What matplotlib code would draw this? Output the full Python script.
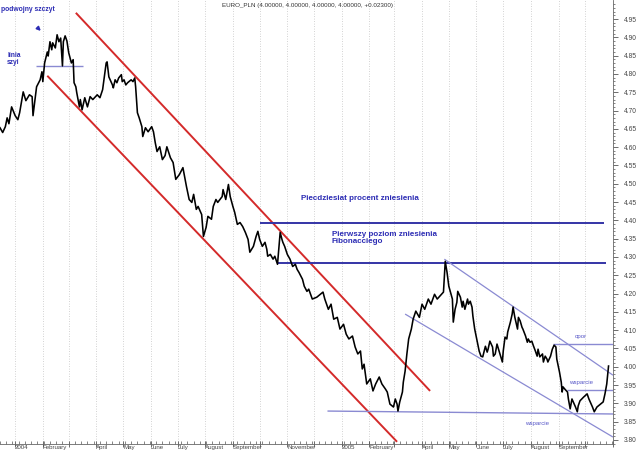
import matplotlib
matplotlib.use('Agg')
import matplotlib.pyplot as plt
import matplotlib.dates as mdates
import matplotlib.ticker as mticker
import matplotlib.transforms as mtransforms
import numpy as np
import pandas as pd

plt.rcParams['font.family'] = ['Liberation Sans', 'DejaVu Sans']

# ---------------- data ----------------
start_date = pd.Timestamp('2003-12-15')
day_offset = [
    0, 3, 6, 8, 10, 13, 17, 20, 22, 26,
    29, 33, 36, 37, 41, 45, 47, 48, 50, 53,
    54, 56, 58, 59, 62, 64, 66, 68, 70, 71,
    73, 75, 77, 80, 82, 83, 85, 86, 89, 90,
    92, 95, 98, 101, 104, 109, 112, 115, 119, 120,
    122, 126, 127, 129, 131, 133, 136, 137, 139, 141,
    143, 147, 149, 151, 152, 154, 156, 159, 160, 163,
    166, 170, 172, 174, 176, 179, 182, 185, 187, 191,
    194, 197, 201, 205, 209, 212, 215, 217, 220, 222,
    226, 228, 231, 233, 237, 239, 242, 244, 249, 250,
    253, 256, 258, 261, 263, 266, 269, 272, 275, 278,
    280, 284, 287, 289, 291, 294, 297, 299, 300, 303,
    306, 308, 311, 314, 316, 317, 319, 322, 325, 328,
    331, 333, 335, 339, 341, 344, 346, 350, 355, 359,
    362, 364, 368, 371, 374, 378, 381, 385, 388, 391,
    395, 398, 401, 404, 406, 408, 411, 415, 418, 421,
    425, 428, 432, 434, 437, 441, 443, 445, 446, 448,
    451, 452, 454, 456, 458, 461, 463, 466, 470, 473,
    476, 480, 483, 487, 490, 493, 497, 499, 501, 503,
    507, 508, 510, 512, 513, 516, 518, 519, 521, 524,
    525, 527, 529, 530, 532, 535, 537, 539, 541, 544,
    546, 547, 549, 552, 553, 555, 557, 558, 561, 563,
    564, 566, 568, 569, 572, 574, 575, 577, 580, 581,
    583, 585, 586, 589, 591, 592, 594, 596, 598, 600,
    602, 603, 605, 608, 609, 611, 613, 614, 617, 619,
    621, 623, 624, 627, 629, 630, 631, 633, 636, 637,
    639, 641, 645, 647, 648, 650, 654, 658, 660, 664,
    666, 669, 673, 676, 678, 680, 682,
]
close = [
    4.653, 4.640, 4.656, 4.680, 4.664, 4.710, 4.686, 4.675, 4.694, 4.751,
    4.727, 4.743, 4.738, 4.686, 4.765, 4.784, 4.806, 4.779, 4.830, 4.860,
    4.849, 4.888, 4.866, 4.885, 4.871, 4.907, 4.888, 4.898, 4.822, 4.888,
    4.904, 4.890, 4.858, 4.830, 4.839, 4.776, 4.765, 4.749, 4.710, 4.730,
    4.702, 4.735, 4.710, 4.738, 4.730, 4.743, 4.735, 4.757, 4.830, 4.833,
    4.792, 4.770, 4.762, 4.784, 4.776, 4.789, 4.798, 4.779, 4.784, 4.770,
    4.776, 4.784, 4.779, 4.789, 4.765, 4.694, 4.680, 4.656, 4.629, 4.653,
    4.642, 4.656, 4.642, 4.612, 4.588, 4.601, 4.566, 4.577, 4.601, 4.571,
    4.558, 4.512, 4.525, 4.544, 4.492, 4.457, 4.449, 4.471, 4.430, 4.438,
    4.416, 4.356, 4.381, 4.411, 4.403, 4.438, 4.457, 4.449, 4.465, 4.484,
    4.457, 4.498, 4.465, 4.438, 4.422, 4.389, 4.394, 4.383, 4.367, 4.348,
    4.313, 4.329, 4.356, 4.370, 4.348, 4.329, 4.340, 4.321, 4.302, 4.307,
    4.294, 4.302, 4.280, 4.367, 4.348, 4.340, 4.329, 4.307, 4.294, 4.274,
    4.280, 4.266, 4.258, 4.239, 4.220, 4.206, 4.212, 4.185, 4.190, 4.198,
    4.204, 4.185, 4.157, 4.171, 4.130, 4.135, 4.103, 4.116, 4.089, 4.076,
    4.084, 4.054, 4.035, 4.043, 3.994, 4.007, 3.953, 3.967, 3.934, 3.953,
    3.972, 3.953, 3.939, 3.931, 3.898, 3.890, 3.912, 3.898, 3.879, 3.904,
    3.931, 3.958, 3.988, 4.035, 4.076, 4.103, 4.130, 4.152, 4.135, 4.171,
    4.157, 4.185, 4.171, 4.198, 4.185, 4.193, 4.204, 4.288, 4.258, 4.220,
    4.185, 4.122, 4.157, 4.176, 4.206, 4.190, 4.163, 4.179, 4.157, 4.185,
    4.171, 4.179, 4.163, 4.138, 4.103, 4.067, 4.043, 4.029, 4.027, 4.056,
    4.040, 4.048, 4.070, 4.054, 4.029, 4.035, 4.062, 4.054, 4.029, 4.013,
    4.043, 4.081, 4.076, 4.095, 4.122, 4.144, 4.163, 4.135, 4.103, 4.135,
    4.125, 4.108, 4.103, 4.084, 4.067, 4.076, 4.067, 4.070, 4.056, 4.043,
    4.029, 4.048, 4.027, 4.035, 4.013, 4.029, 4.021, 4.013, 4.029, 4.048,
    4.059, 4.054, 4.021, 3.986, 3.958, 3.931, 3.945, 3.939, 3.931, 3.912,
    3.885, 3.912, 3.890, 3.877, 3.893, 3.907, 3.917, 3.926, 3.912, 3.890,
    3.877, 3.890, 3.898, 3.904, 3.926, 3.953, 4.002,
]
assert len(day_offset) == len(close)

month_ticks = pd.date_range('2004-01-01', '2005-11-01', freq='MS')
month_labels = ['2004', 'February', '', 'April', 'May', 'June', 'July', 'August',
                'September', '', 'November', '', '2005', 'February', '', 'April',
                'May', 'June', 'July', 'August', 'September', '', '']
price_ticks = [3.80, 3.85, 3.90, 3.95, 4.00, 4.05, 4.10, 4.15, 4.20, 4.25, 4.30, 4.35,
               4.40, 4.45, 4.50, 4.55, 4.60, 4.65, 4.70, 4.75, 4.80, 4.85, 4.90, 4.95]

title_text = 'EURO_PLN (4.00000, 4.00000, 4.00000, 4.00000, +0.02300)'

# trend lines: (day_offset, value) endpoints
red_upper = [(85, 4.967), (482, 3.934)]
red_lower = [(53, 4.795), (445, 3.795)]
neckline = [(40, 4.822), (93, 4.822)]
fib_50 = [(291, 4.393), (677, 4.393)]
fib_first = [(312, 4.283), (679, 4.283)]
support_low = [(367, 3.879), (687, 3.871)]
chan_upper = [(498, 4.294), (687, 3.977)]
chan_lower = [(454, 4.144), (687, 3.808)]
resistance = [(620, 4.062), (687, 4.062)]
support_high = [(636, 3.937), (687, 3.937)]


def d(day):
    return start_date + pd.Timedelta(days=day)


dates = start_date + pd.to_timedelta(day_offset, unit='D')

# ---------------- figure ----------------
fig = plt.figure(figsize=(6.4, 4.54), dpi=100)
ax = fig.add_axes([0.0, 10 / 454, 613 / 640, 444 / 454])

RED = '#d42a2a'
NAVY = '#3434a6'
THIN = '#8a8ad2'
TXT = '#2c2cb4'
SMALLTXT = '#5858c8'


def seg(pts, **kw):
    ax.plot([d(p[0]) for p in pts], [p[1] for p in pts], solid_capstyle='butt', **kw)


seg(red_upper, color=RED, lw=1.4)
seg(red_lower, color=RED, lw=1.4)
seg(fib_50, color=NAVY, lw=1.4)
seg(fib_first, color=NAVY, lw=1.4)
seg(neckline, color=THIN, lw=1.0)
seg(support_low, color=THIN, lw=1.0)
seg(chan_upper, color=THIN, lw=0.9)
seg(chan_lower, color=THIN, lw=0.9)
seg(resistance, color=THIN, lw=1.0)
seg(support_high, color=THIN, lw=1.0)

ax.plot(dates, close, color='black', lw=1.15, zorder=5)

# texts
ax.text(d(1), 4.975, 'podwojny szczyt', color=TXT, fontsize=4.9, fontweight='bold',
        ha='left', va='center')
ax.annotate('', xy=(d(48), 4.912), xytext=(d(41), 4.929),
            arrowprops=dict(arrowstyle='-|>', color=TXT, lw=1.3, mutation_scale=5))
ax.text(d(8), 4.841, 'linia\nszyi', color=TXT, fontsize=4.8, fontweight='bold',
        ha='left', va='center', linespacing=1.0)
ax.text(d(337), 4.460, 'Piecdziesiat procent zniesienia', color=TXT, fontsize=5.8,
        fontweight='bold', ha='left', va='center')
ax.text(d(372), 4.352, 'Pierwszy poziom zniesienia\nFibonacciego', color=TXT, fontsize=5.8,
        fontweight='bold', ha='left', va='center', linespacing=1.05)
ax.text(d(651), 4.084, 'opor', color=SMALLTXT, fontsize=4.4, ha='center', va='center')
ax.text(d(651), 3.958, 'wsparcie', color=SMALLTXT, fontsize=4.4, ha='center', va='center')
ax.text(d(602), 3.845, 'wsparcie', color=SMALLTXT, fontsize=4.4, ha='center', va='center')

fig.text(307 / 640, 1 - 5 / 454, title_text, fontsize=4.5, color='#333333',
         ha='center', va='center')

# axes
ax.set_xlim(d(0), d(687))
ax.set_ylim(3.789, 5.002)
ax.set_xticks(month_ticks)
ax.set_xticklabels(month_labels, ha='left', va='top', fontsize=4.4, color='#444444')
offset = mtransforms.ScaledTranslation(1.5 / 72, 0, fig.dpi_scale_trans)
for lbl in ax.get_xticklabels():
    lbl.set_transform(lbl.get_transform() + offset)
ax.xaxis.set_minor_locator(mdates.WeekdayLocator(byweekday=mdates.MO))
ax.tick_params(axis='x', which='major', direction='inout', length=5, width=0.6,
               color='#555555', pad=-1.5)
ax.tick_params(axis='x', which='minor', direction='in', length=2, width=0.5, color='#555555')

ax.yaxis.tick_right()
ax.yaxis.set_major_locator(mticker.FixedLocator(price_ticks))
ax.yaxis.set_minor_locator(mticker.FixedLocator(np.arange(3.79, 5.0, 0.01)))
ax.yaxis.set_major_formatter(mticker.FormatStrFormatter('%.2f'))
ax.tick_params(axis='y', which='major', length=3.5, width=0.6, color='#555555',
               labelsize=4.8, labelcolor='#444444', pad=4)
ax.tick_params(axis='y', which='minor', length=1.5, width=0.5, color='#555555')

ax.grid(axis='x', which='major', color='#c4c4c4', linestyle=(0, (1, 2)), lw=0.6)

for s in ['left', 'top']:
    ax.spines[s].set_visible(False)
for s in ['right', 'bottom']:
    ax.spines[s].set_color('#666666')
    ax.spines[s].set_linewidth(0.6)

fig.savefig('out.png', dpi=100)
